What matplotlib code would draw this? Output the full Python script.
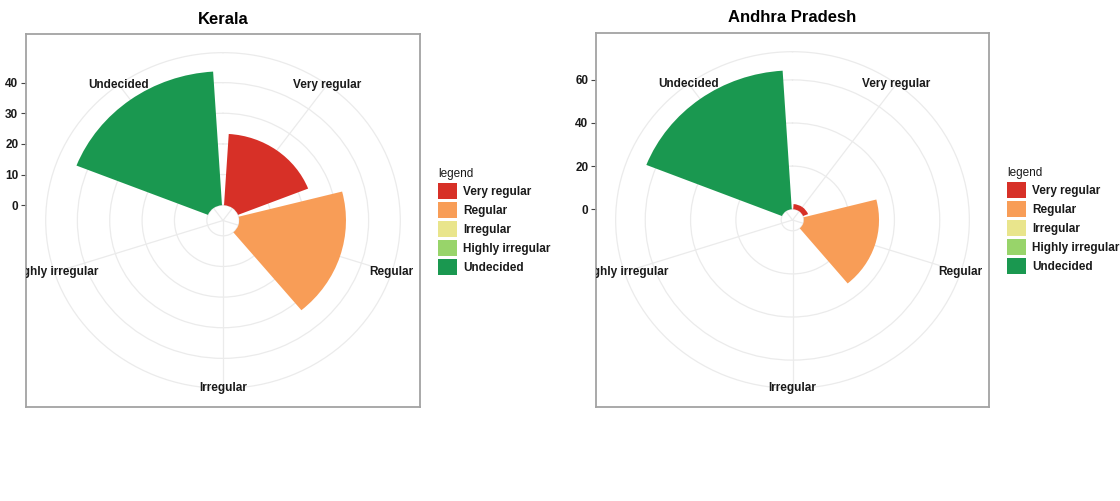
import matplotlib
matplotlib.use("Agg")
import matplotlib.pyplot as plt
import numpy as np
from matplotlib.patches import Patch

# ---------------- data ----------------
categories = ["Very regular", "Regular", "Irregular", "Highly irregular", "Undecided"]
colors = ["#D73027", "#F89D57", "#E9E58C", "#98D46A", "#1A9850"]
kerala_values = [23.3, 33.0, 0, 0, 43.7]
andhra_values = [2.4, 33.2, 0, 0, 64.4]
kerala_ticks = [0, 10, 20, 30, 40]
andhra_ticks = [0, 20, 40, 60]
r_low = -5

W, H = 1120, 501
plt.rcParams['font.family'] = ['Liberation Sans', 'DejaVu Sans']
fig = plt.figure(figsize=(W / 100, H / 100), dpi=100)
fig.patch.set_facecolor("white")

GRID = "#ebebeb"
TXT = "#1a1a1a"
FS = 8.5


def px_rect(x0, y0, x1, y1):
    return [x0 / W, 1 - y1 / H, (x1 - x0) / W, (y1 - y0) / H]


def panel(box, values, ticks, title, title_y, legend_xy):
    x0, y0, x1, y1 = box
    w, h = x1 - x0, y1 - y0
    rmax = max(values)
    R = (rmax - r_low) / 0.4 * 0.45
    outer = r_low + R
    half = R / 0.9

    frame = fig.add_axes(px_rect(*box))
    frame.set_xlim(0, 1)
    frame.set_ylim(r_low - half, r_low + half)
    frame.set_xticks([])
    frame.set_yticks(ticks)
    frame.set_yticklabels([str(t) for t in ticks], fontsize=FS, fontweight="bold", color=TXT)
    frame.tick_params(axis="y", length=3.5, width=0.8, color="#444444", pad=2)
    for s in frame.spines.values():
        s.set_color("#a3a3a3")
        s.set_linewidth(1.3)
    frame.set_facecolor("white")

    pol = fig.add_axes(px_rect(x0 + 0.05 * w, y0 + 0.05 * h, x1 - 0.05 * w, y1 - 0.05 * h),
                       projection="polar")
    pol.set_aspect("auto")
    pol.set_theta_zero_location("N")
    pol.set_theta_direction(-1)
    n = len(categories)
    step = 2 * np.pi / n
    theta = (np.arange(n) + 0.5) * step
    pol.set_axisbelow(True)
    pol.bar(theta, values, width=0.9 * step, bottom=0, color=colors, align="center", linewidth=0)
    pol.set_ylim(r_low, outer)
    pol.set_xticks(theta)
    pol.set_xticklabels([])
    pol.set_yticks(ticks)
    pol.set_yticklabels([])
    pol.tick_params(length=0)
    pol.grid(True, color=GRID, linewidth=0.9)
    pol.spines["polar"].set_color(GRID)
    pol.spines["polar"].set_linewidth(0.9)
    pol.patch.set_alpha(0)

    for th, lab in zip(theta, categories):
        t = pol.text(0.5 + 0.5 * np.sin(th), 0.5 + 0.5 * np.cos(th), lab,
                     transform=pol.transAxes, ha="center", va="center",
                     fontsize=FS, fontweight="bold", color=TXT)
        t.set_clip_box(frame.bbox)
        t.set_clip_on(True)

    fig.text((x0 + x1) / 2 / W, 1 - title_y / H, title, ha="center", va="center",
             fontsize=12, fontweight="bold", color="black")

    handles = [Patch(facecolor=c, edgecolor="none") for c in colors]
    lx, ly = legend_xy
    leg = fig.legend(handles, categories, loc="upper left",
                     bbox_to_anchor=(lx / W, 1 - ly / H), frameon=False,
                     title="legend", alignment="left",
                     prop={"size": FS, "weight": "bold"},
                     title_fontproperties={"size": FS, "weight": "medium"},
                     handlelength=1.6, handleheight=1.7, labelspacing=0.26,
                     handletextpad=0.55, borderpad=0, borderaxespad=0)
    for t in leg.get_texts():
        t.set_color(TXT)
    leg.get_title().set_color(TXT)


panel((26, 34, 420, 407), kerala_values, kerala_ticks, "Kerala", 20, (438, 168))
panel((596, 33, 989, 407), andhra_values, andhra_ticks, "Andhra Pradesh", 17, (1007, 167))

fig.savefig("out.png", dpi=100, facecolor="white")
